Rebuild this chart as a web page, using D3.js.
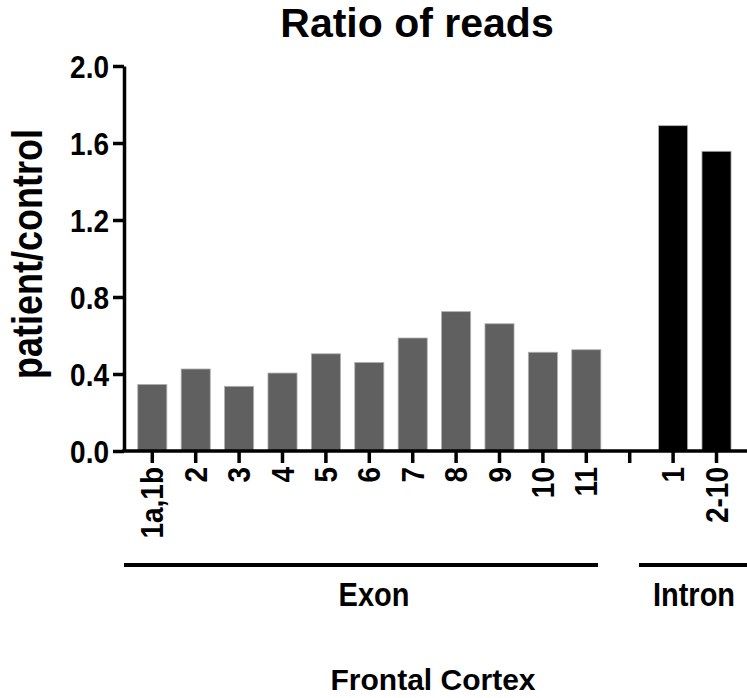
<!doctype html>
<html>
<head>
<meta charset="utf-8">
<title>Ratio of reads</title>
<script src="https://d3js.org/d3.v7.min.js"></script>
<style>
  body { margin: 0; background: #fff; }
  text { font-family: "Liberation Sans", Arial, sans-serif; font-weight: bold; fill: #000; }
</style>
</head>
<body>
<svg id="chart" width="747" height="698"></svg>
<script>
// values
const exonLabels = ["1a,1b", "2", "3", "4", "5", "6", "7", "8", "9", "10", "11"];
const exonValues = [0.346, 0.426, 0.336, 0.405, 0.505, 0.46, 0.587, 0.724, 0.661, 0.513, 0.526];
const intronLabels = ["1", "2-10"];
const intronValues = [1.69, 1.557];
const yTicks = [0, 0.4, 0.8, 1.2, 1.6, 2.0];

const svg = d3.select("#chart"),
    width = +svg.attr("width"),
    height = +svg.attr("height");

// the source font is a bit taller than Liberation Sans for the same width
const tall = 1.15;

// one empty slot between the two groups
const slots = exonLabels.map((l, i) => ({key: "e" + i, label: l, value: exonValues[i], group: "exon"}))
  .concat([{key: "gap", label: "", value: null, group: "gap"}])
  .concat(intronLabels.map((l, i) => ({key: "i" + i, label: l, value: intronValues[i], group: "intron"})));

const axisX = 124, baseY = 451;

const x = d3.scaleBand()
  .domain(slots.map(d => d.key))
  .range([130.6, 738.2])
  .paddingInner(0.33)
  .paddingOuter(0.165);

const y = d3.scaleLinear()
  .domain([0, 2])
  .range([baseY, 66]);

// bars
svg.append("g")
  .selectAll("rect")
  .data(slots.filter(d => d.value !== null))
  .join("rect")
    .attr("x", d => x(d.key))
    .attr("width", x.bandwidth())
    .attr("y", d => y(d.value))
    .attr("height", d => y(0) - y(d.value))
    .attr("fill", d => d.group === "exon" ? "#606060" : "#000")
    .attr("stroke", "#b0b0b0")
    .attr("stroke-width", 0.8);

// y axis
const yAxis = svg.append("g")
  .attr("transform", `translate(${axisX},0)`)
  .call(d3.axisLeft(y).tickValues(yTicks).tickFormat(d3.format(".1f")).tickSize(11).tickSizeOuter(0));
yAxis.select(".domain").attr("stroke-width", 3.5);
yAxis.selectAll(".tick line").attr("stroke-width", 3.5);
yAxis.selectAll(".tick text")
  .style("font-size", "28px")
  .attr("x", null).attr("dy", null)
  .attr("transform", `translate(-15,${0.36 * 28 * tall}) scale(1,${tall})`);

// x axis (line drawn across the full width)
const xAxis = svg.append("g")
  .attr("transform", `translate(0,${baseY})`)
  .call(d3.axisBottom(x).tickSize(12).tickSizeOuter(0).tickFormat(k => slots.find(s => s.key === k).label));
xAxis.select(".domain").remove();
xAxis.selectAll(".tick line").attr("stroke-width", 3.5);
xAxis.selectAll(".tick text")
  .style("font-size", "28px")
  .attr("text-anchor", "end")
  .attr("y", null).attr("dy", null)
  .attr("transform", `translate(${0.36 * 28 * 1.1},16) rotate(-90) scale(1,1.1)`);
svg.append("line")
  .attr("x1", axisX - 1.75).attr("x2", width)
  .attr("y1", baseY).attr("y2", baseY)
  .attr("stroke", "#000").attr("stroke-width", 3.5);

// group brackets
const groups = [
  {name: "Exon", x1: axisX, x2: 598, tx: 374},
  {name: "Intron", x1: 639, x2: width, tx: 694}
];
svg.append("g").selectAll("line")
  .data(groups)
  .join("line")
    .attr("x1", d => d.x1).attr("x2", d => d.x2)
    .attr("y1", 565).attr("y2", 565)
    .attr("stroke", "#000").attr("stroke-width", 4);
svg.append("g").selectAll("text")
  .data(groups)
  .join("text")
    .attr("transform", d => `translate(${d.tx},606) scale(1,${tall})`)
    .attr("text-anchor", "middle")
    .style("font-size", "29px")
    .text(d => d.name);

// title and labels
svg.append("text")
  .attr("x", 417).attr("y", 37)
  .attr("text-anchor", "middle")
  .style("font-size", "41px")
  .text("Ratio of reads");

svg.append("text")
  .attr("transform", "translate(42,254) rotate(-90) scale(1,1.2)")
  .attr("text-anchor", "middle")
  .style("font-size", "36px")
  .text("patient/control");

svg.append("text")
  .attr("x", 433).attr("y", 690)
  .attr("text-anchor", "middle")
  .style("font-size", "30px")
  .text("Frontal Cortex");
</script>
</body>
</html>
